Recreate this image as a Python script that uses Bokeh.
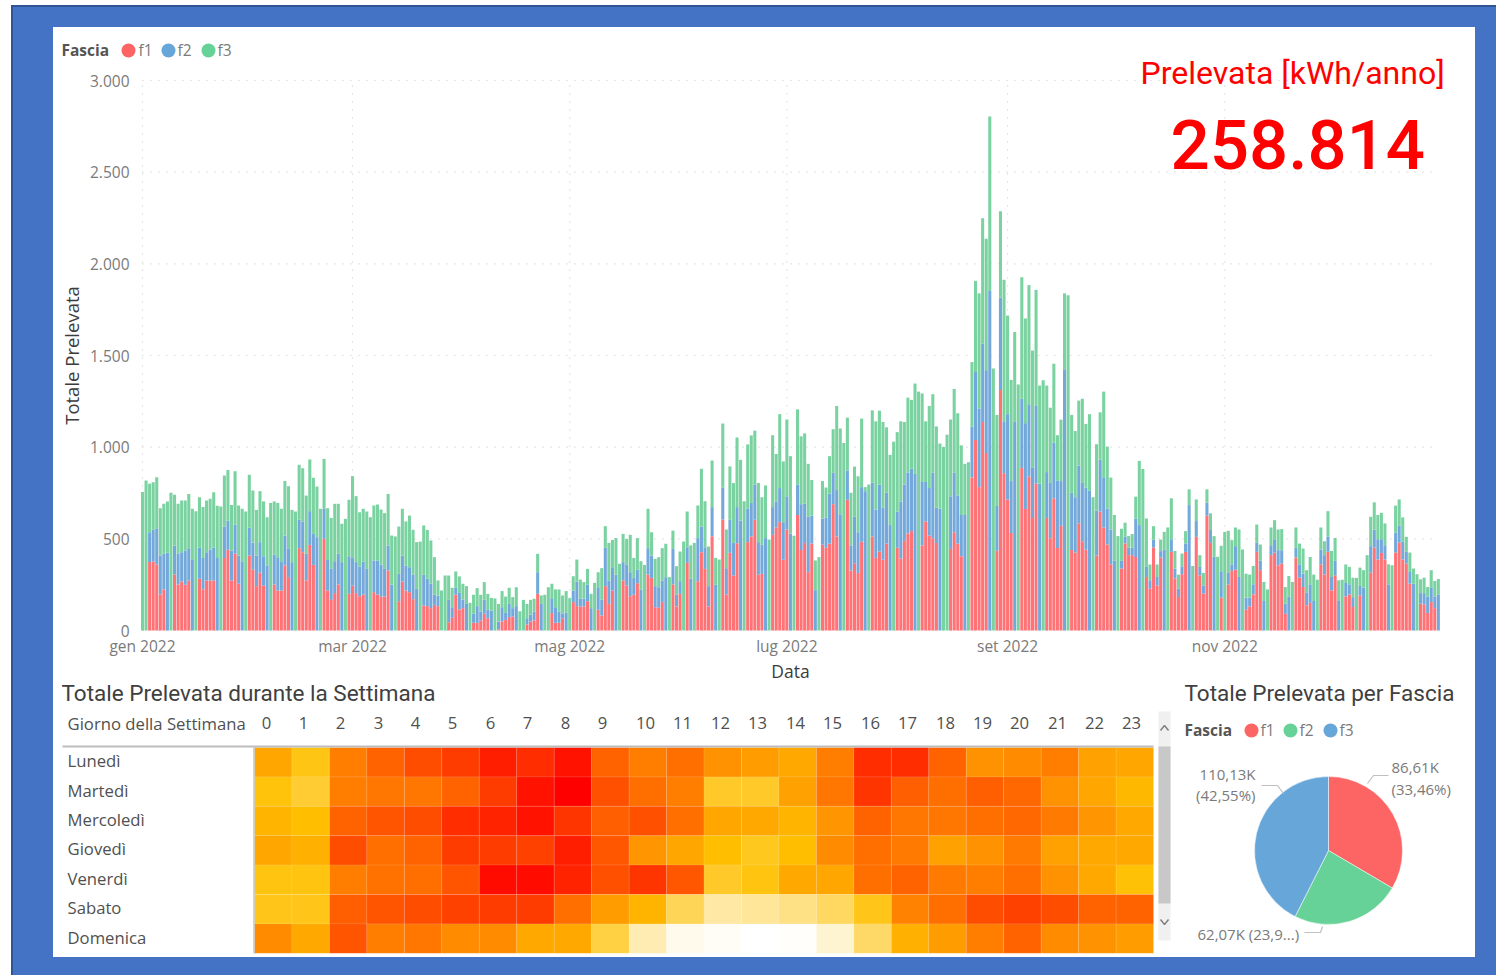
from bokeh.plotting import figure
from bokeh.layouts import column, row
from bokeh.models import Range1d, FixedTicker, LinearColorMapper, ColumnDataSource
from bokeh.core.properties import value
from bokeh.embed import file_html
from bokeh.resources import INLINE
import numpy as np

# ---------- daily data (kWh), weeks start on Saturday 1 Jan 2022 ----------
f1 = [0,0,373,376,360,196,224, 0,0,305,251,267,249,273, 0,0,282,225,273,273,273, 0,0,396,440,273,418,255,
      0,0,409,331,242,315,245, 0,0,251,218,218,355,291, 0,0,449,427,273,467,358, 0,0,500,218,167,204,251,
      0,0,200,245,204,187,196, 0,0,209,196,185,185,327, 0,0,160,267,218,209,171, 0,0,136,133,122,140,133,
      0,0,45,69,195,115,122, 0,0,42,42,55,91,67, 0,0,5,49,58,73,76, 0,0,0,33,49,55,200,
      0,0,0,95,42,42,67, 0,0,155,133,131,131,160, 0,0,113,82,242,145,218, 0,0,273,245,187,195,258,
      0,0,305,287,127,124,155, 0,0,251,131,200,0,369, 0,0,269,427,336,131,514, 0,0,605,196,424,300,476,
      0,0,482,513,604,304,309, 0,0,522,562,591,386,552, 0,0,630,439,477,318,474, 0,0,468,451,474,689,513,
      0,0,713,327,367,314,484, 0,0,513,396,431,386,474, 0,0,451,392,489,529,542, 0,0,464,595,517,503,477,
      0,0,0,445,536,474,405, 0,0,835,1039,782,1137,968, 0,0,435,1312,858,714,532, 0,0,887,663,840,614,801,
      0,0,614,503,721,450,571, 0,0,439,425,585,487,441, 0,0,409,649,562,469,361, 0,0,338,475,411,411,401,
      0,0,292,228,453,246,398, 0,0,429,283,183,307,429, 0,0,511,301,201,626,478, 0,0,179,0,250,325,332,
      0,0,113,131,197,429,329, 0,0,411,425,356,365,91, 0,0,398,288,237,137,151, 0,0,361,305,429,219,301,
      0,0,186,197,128,0,192, 0,0,316,453,387,423,387, 0,0,425,480,387,365,255, 0,0,146,142,96,155,122, 0]
f1_f2 = [0,0,536,549,558,409,418, 424,0,464,418,427,436,449, 385,0,451,396,427,440,451, 395,0,567,600,436,578,409,
      378,0,560,480,409,482,405, 355,0,415,400,378,518,445, 373,0,604,595,418,651,527, 509,0,664,385,336,378,418,
      373,0,405,395,373,349,376, 336,0,382,382,360,336,464, 251,0,309,409,355,345,304, 227,0,304,282,255,195,191,
      0,0,167,127,233,205,169, 145,0,91,133,104,169,115, 109,0,49,127,96,145,122, 133,0,0,67,87,104,318,
      145,0,0,176,127,104,91, 96,0,218,267,173,173,249, 122,0,236,169,451,273,345, 305,0,373,358,318,287,331,
      224,0,449,409,242,236,273, 291,0,445,196,269,0,454, 282,0,504,567,454,242,673, 249,0,778,340,604,478,673,
      600,0,664,696,795,482,467, 504,0,673,704,777,591,732, 529,0,796,689,692,620,626, 220,0,610,615,747,860,766,
      634,0,873,464,620,536,782, 760,0,806,659,796,669,751, 575,0,649,704,796,860,884, 854,0,810,810,777,860,669,
      665,0,0,732,860,737,630, 630,0,1113,1410,1211,1566,1420, 1852,0,679,1815,1137,1180,815, 1141,0,1264,1131,1234,887,1225,
      801,0,864,805,1024,819,815, 1425,0,751,727,899,805,780, 762,0,653,932,836,666,551, 380,0,380,511,451,451,611,
      575,0,347,274,496,292,433, 442,0,498,338,228,350,475, 684,0,597,347,246,697,548, 402,0,323,0,314,361,460,
      292,0,179,179,252,478,380, 161,0,465,498,438,438,146, 186,0,451,361,310,205,252, 161,0,442,411,511,292,380,
      161,0,259,252,182,0,243, 234,0,460,551,498,498,465, 252,0,533,571,484,429,319, 255,0,204,204,186,232,186, 197]
totale = [755,818,800,809,836,667,691, 704,751,740,691,709,709,745, 664,651,727,673,709,718,754, 680,676,845,876,685,869,682,
      664,649,849,764,658,760,704, 618,696,704,696,664,815,787, 658,649,904,885,736,933,833, 785,664,936,667,614,691,691,
      582,609,713,842,733,645,664, 649,618,682,687,660,640,745, 518,513,567,664,595,627,549, 482,485,573,549,491,400,273,
      218,300,300,233,322,295,255, 242,151,195,231,195,264,200, 178,175,145,215,185,233,182, 236,105,167,145,167,173,418,
      191,195,236,255,224,224,191, 215,176,296,387,278,264,336, 200,260,318,340,569,478,494, 504,364,527,500,522,396,504,
      378,358,664,536,391,400,449, 473,291,545,351,431,485,649, 464,478,682,882,705,458,927, 396,387,1129,551,895,804,1053,
      931,705,1015,1064,1090,805,727, 791,496,1065,963,1180,922,1151, 951,517,1206,1059,1075,909,821, 382,400,815,780,951,1098,1225,
      1102,1023,1161,751,894,841,1156, 782,796,1201,1141,1199,1137,1108, 958,1030,1082,1141,1137,1270,1258, 1347,1303,1293,1141,1225,1289,1113,
      1020,1001,1068,1151,1318,1185,1010, 909,918,1464,1907,1839,2248,2137, 2804,1429,1176,2287,1913,1718,1367, 1628,1342,1927,1702,1884,1527,1858,
      1336,1365,1336,1215,1455,1065,1150, 1839,1829,1176,1088,1254,1264,1127, 1180,727,1016,1190,1303,1003,834, 630,515,555,588,515,526,730,
      925,881,611,360,569,360,496, 538,562,721,434,305,420,542, 770,352,715,411,314,770,639, 515,402,462,538,544,493,562,
      551,442,310,305,352,578,469, 265,224,562,602,551,553,237, 297,265,562,474,447,329,401, 305,277,562,487,651,434,505,
      274,277,360,347,288,287,343, 329,411,620,699,630,642,584, 361,356,681,715,617,511,425, 338,307,279,288,237,329,270, 281]

mesi_tick = [0, 59, 120, 181, 243, 304]
mesi_label = ["gen 2022", "mar 2022", "mag 2022", "lug 2022", "set 2022", "nov 2022"]
y_ticks = [0, 500, 1000, 1500, 2000, 2500, 3000]
y_labels = ["0", "500", "1.000", "1.500", "2.000", "2.500", "3.000"]

giorni = ["Lunedì", "Martedì", "Mercoledì", "Giovedì", "Venerdì", "Sabato", "Domenica"]
ore = list(range(24))
heat = [
    [57,46,67,74,80,84,92,88,95,74,67,71,62,59,56,67,88,88,74,62,64,67,58,57],
    [48,40,67,69,69,74,84,95,100,79,71,67,42,42,58,69,86,75,71,75,73,62,57,52],
    [53,50,74,78,80,88,91,95,86,75,79,71,57,56,53,61,74,69,69,71,73,68,61,56],
    [57,54,80,71,74,84,84,83,92,77,61,57,50,44,50,64,71,68,58,62,68,58,56,56],
    [47,47,67,70,71,78,97,97,91,79,86,77,42,47,56,57,71,74,68,67,71,62,56,49],
    [45,45,75,78,80,83,84,84,71,59,53,33,18,20,24,31,45,66,71,80,83,80,74,74],
    [64,56,78,67,69,64,64,56,56,37,15,4,2,0,1,9,30,54,59,67,74,64,62,59],
]

fasce_pie = ["f1", "f2", "f3"]
valori_pie = [86.61, 62.07, 110.13]
colori_pie = ["#FD6464", "#67D297", "#67A6D8"]
colori_legenda = ["#FD6464", "#67A6D8", "#67D297"]

# ---------- styles ----------
BLUE_BG = "#4472C4"
C_F1, C_F2, C_F3 = "#FF7276", "#73A8DA", "#7AD2A0"
SEGOE, DIN = "Open Sans", "Roboto"
GREY, DARK = "#7A7A7A", "#3C3C3C"
WHITE_CSS = {"background-color": "white"}
SPLIT = 706   # page y where the main figure ends and the lower row begins

def text(fig, xs, ys, txts, size, color, font=SEGOE, align="left", style="normal"):
    fig.text(xs, ys, text=txts, text_font=value(font), text_font_size=value(size),
             text_color=color, text_align=align, text_baseline="middle", text_font_style=style)

# ---------- main chart: the frame fills the whole figure, axes are fixed inside it ----------
X0, XD = 142.0, 3.56          # pixel of day 0, pixels per day
Y0, YU = 630.0, 550.0 / 3000  # pixel of zero, pixels per unit
px = lambda x: (x - X0) / XD
py = lambda y: (Y0 - y) / YU

days = np.arange(365)
bot1, top1, top2, top3 = np.zeros(365), np.array(f1), np.array(f1_f2), np.array(totale)

p = figure(width=1422, height=SPLIT - 27, output_backend="svg", toolbar_location=None,
           x_range=Range1d(px(53), px(1475)), y_range=Range1d(py(SPLIT), py(27)),
           min_border=0, background_fill_alpha=0, border_fill_alpha=0,
           outline_line_color=None, margin=(22, 0, 0, 42), styles=WHITE_CSS)
p.xgrid.visible = False
p.ygrid.visible = False
GRID = dict(line_color="#CFCFCF", line_dash="1 7", line_width=1.2)
p.segment(mesi_tick, [0] * 6, mesi_tick, [3000] * 6, **GRID)
p.segment([0] * 7, y_ticks, [px(1433)] * 7, y_ticks, **GRID)
p.vbar(days, width=0.86, bottom=bot1, top=top1, fill_color=C_F1, line_color=None)
p.vbar(days, width=0.86, bottom=top1, top=np.maximum(top1, top2), fill_color=C_F2, line_color=None)
p.vbar(days, width=0.86, bottom=np.maximum(top1, top2), top=top3, fill_color=C_F3, line_color=None)

for ax, tks, lbs in ((p.xaxis[0], mesi_tick, mesi_label), (p.yaxis[0], y_ticks, y_labels)):
    ax.ticker = FixedTicker(ticks=tks)
    ax.major_label_overrides = dict(zip(tks, lbs))
    ax.axis_line_color = None
    ax.major_tick_line_color = None
    ax.minor_tick_line_color = None
    ax.major_tick_in = ax.major_tick_out = 0
    ax.minor_tick_in = ax.minor_tick_out = 0
    ax.major_label_text_font = SEGOE
    ax.major_label_text_font_size = "15.5px"
    ax.major_label_text_color = GREY
p.xaxis.fixed_location = 0
p.yaxis.fixed_location = px(141)
p.xaxis.major_label_standoff = 4
p.yaxis.major_label_standoff = 12

# axis titles
text(p, [px(790)], [py(670)], ["Data"], "17.5px", DARK, align="center")
p.text([px(71)], [py(355)], text=["Totale Prelevata"], angle=np.pi / 2, text_font=value(SEGOE),
       text_font_size=value("18.5px"), text_color=DARK, text_align="center", text_baseline="middle")

# legend
text(p, [px(61)], [py(49)], ["Fascia"], "15.5px", "#555555", style="bold")
p.scatter([px(128), px(168), px(208)], [py(50)] * 3, marker="circle", size=14,
          fill_color=colori_legenda, line_color=None)
text(p, [px(138), px(177), px(217)], [py(49)] * 3, ["f1", "f2", "f3"], "15.5px", GREY)

# KPI card
text(p, [px(1140)], [py(72)], ["Prelevata [kWh/anno]"], "32px", "#FF0000", font=DIN)
text(p, [px(1170)], [py(144)], ["258.814"], "69px", "#FF0000", font="Roboto Medium")

# panel titles
text(p, [px(61)], [py(692)], ["Totale Prelevata durante la Settimana"], "22.5px", "#404040", font=DIN)
text(p, [px(1184)], [py(692)], ["Totale Prelevata per Fascia"], "22.5px", "#404040", font=DIN)

# ---------- heatmap ----------
HX0, HW, HY0, HH = 254.0, 37.46, 747.0, 29.4
hx = lambda x: (x - HX0) / HW - 0.5
hy = lambda y: (y - HY0) / HH - 0.5

palette = []
for t in np.linspace(0, 1, 256):
    if t < 0.5:
        g, b = 255 - (255 - 192) * t * 2, 255 * (1 - t * 2)
    else:
        g, b = 192 * (1 - (t - 0.5) * 2), 0
    palette.append("#FF%02X%02X" % (int(round(g)), int(round(b))))
mapper = LinearColorMapper(palette=palette, low=0, high=100)

h = figure(width=1122, height=957 - SPLIT, output_backend="svg", toolbar_location=None,
           x_range=Range1d(hx(53), hx(1175)), y_range=Range1d(hy(957), hy(SPLIT)),
           x_axis_location=None, y_axis_location=None, min_border=0,
           outline_line_color=None, background_fill_alpha=0, border_fill_alpha=0, styles=WHITE_CSS)
h.grid.visible = False
cx, cy, cv = [], [], []
for r, riga in enumerate(heat):
    for c, v in enumerate(riga):
        cx.append(c); cy.append(r); cv.append(v)
h.rect("x", "y", width=1, height=1, source=ColumnDataSource(dict(x=cx, y=cy, v=cv)),
       fill_color={"field": "v", "transform": mapper}, line_color="#FFFFFF", line_alpha=0.1, line_width=1)

colonne_px = [266, 303, 340, 378, 415, 452, 490, 527, 565, 602, 645, 682, 720, 757,
              795, 832, 870, 907, 945, 982, 1019, 1057, 1094, 1131]
righe_py = [HY0 + HH * (r + 0.5) - 1.5 for r in range(7)]
text(h, [hx(67)] * 7, [hy(y) for y in righe_py], giorni, "16.7px", "#505050")
text(h, [hx(67)], [hy(722.5)], ["Giorno della Settimana"], "16.7px", "#505050")
text(h, [hx(x) for x in colonne_px], [hy(722.5)] * 24, [str(i) for i in ore], "16.7px", "#505050", align="center")
# table rule and scrollbar
h.line([hx(62), hx(1153)], [hy(746)] * 2, line_color="#BDBDBD", line_width=2)
h.line([hx(253.5)] * 2, [hy(746), hy(953)], line_color="#C4C4C4", line_width=1.5)
h.quad(left=[hx(1158)], right=[hx(1170)], top=[hy(711)], bottom=[hy(940)], fill_color="#F0F0F0", line_color=None)
h.quad(left=[hx(1158)], right=[hx(1170)], top=[hy(746)], bottom=[hy(903)], fill_color="#C8C8C8", line_color=None)
h.line([hx(1160), hx(1164), hx(1168)], [hy(730), hy(725), hy(730)], line_color="#808080", line_width=1.5)
h.line([hx(1160), hx(1164), hx(1168)], [hy(919), hy(924), hy(919)], line_color="#808080", line_width=1.5)

# ---------- pie ----------
q = figure(width=300, height=957 - SPLIT, output_backend="svg", toolbar_location=None,
           x_range=Range1d(1175 - 1328, 1475 - 1328), y_range=Range1d(850 - 957, 850 - SPLIT),
           x_axis_location=None, y_axis_location=None, min_border=0,
           outline_line_color=None, background_fill_alpha=0, border_fill_alpha=0, styles=WHITE_CSS)
q.grid.visible = False
quote = np.array(valori_pie) / sum(valori_pie)
fine = np.pi / 2 - 2 * np.pi * np.cumsum(quote)
inizio = np.concatenate(([np.pi / 2], fine[:-1]))
q.wedge(x=0, y=0, radius=74, start_angle=fine, end_angle=inizio, fill_color=colori_pie,
        line_color="white", line_width=0.5)
sx = lambda x: x - 1328
sy = lambda y: 850 - y
lab = [("86,61K", 1391, 768, "left"), ("(33,46%)", 1391, 790, "left"), ("110,13K", 1255, 775, "right"),
       ("(42,55%)", 1255, 796, "right"), ("62,07K (23,9...)", 1197, 935, "left")]
for t, x, y, al in lab:
    text(q, [sx(x)], [sy(y - 2)], [t], "15px", GREY, align=al)
for xs, ys in (([1367, 1373, 1388], [783, 775, 775]), ([1261, 1277, 1283], [785, 785, 793]),
               ([1304, 1320, 1322], [932, 932, 926])):
    q.line([sx(v) for v in xs], [sy(v) for v in ys], line_color="#C0C0C0", line_width=1.2)
text(q, [sx(1184)], [sy(729)], ["Fascia"], "15.5px", "#555555", style="bold")
q.scatter([sx(1251), sx(1290), sx(1330)], [sy(730)] * 3, marker="circle", size=14,
          fill_color=colori_pie, line_color=None)
text(q, [sx(1260), sx(1299), sx(1339)], [sy(729)] * 3, fasce_pie, "15.5px", GREY)

bottom = row(h, q, spacing=0, margin=(0, 0, 0, 42))
page = column(p, bottom, spacing=0, width=1485, height=970, margin=(5, 0, 0, 11),
              styles={"background-color": BLUE_BG, "box-shadow": "inset 2px 2px 0 #2F5597"})

open("out.html", "w").write(file_html(page, INLINE))
